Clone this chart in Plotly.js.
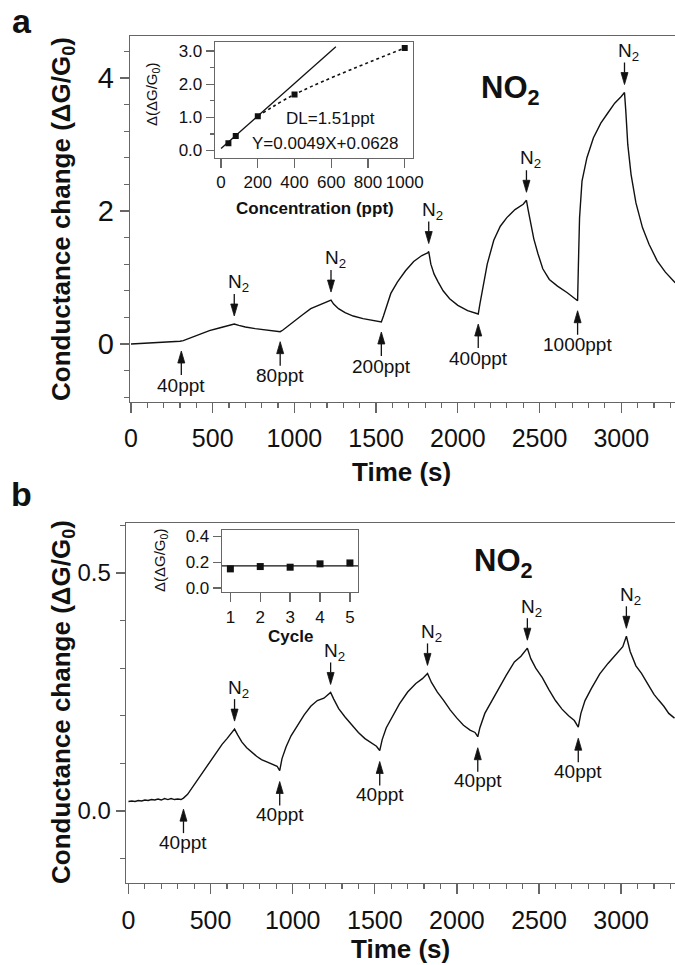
<!DOCTYPE html>
<html><head><meta charset="utf-8">
<script src="https://cdn.plot.ly/plotly-3.0.1.min.js"></script>
<style>html,body{margin:0;padding:0;background:#fff;}#chart{width:675px;height:965px;}</style>
</head><body><div id="chart"></div>
<script>
// ---------- DATA ----------
// Panel a: response to increasing NO2 doses
const timeA = [0,100,200,300,320,360,420,480,540,600,632,660,700,760,820,880,913,930,960,1000,1050,1100,1150,1200,1224,1240,1270,1310,1360,1420,1480,1532,1545,1565,1590,1630,1680,1730,1780,1815,1822,1835,1855,1880,1910,1950,2000,2060,2125,2135,2150,2180,2220,2260,2300,2350,2400,2420,2430,2445,2465,2490,2520,2560,2610,2670,2733,2738,2745,2760,2790,2830,2875,2920,2960,3000,3020,3028,3040,3060,3090,3130,3170,3220,3270,3330];
const respA = [0,0.01,0.02,0.04,0.05,0.09,0.15,0.2,0.24,0.28,0.30,0.28,0.255,0.23,0.21,0.195,0.185,0.21,0.27,0.35,0.44,0.53,0.58,0.63,0.66,0.6,0.53,0.47,0.42,0.38,0.35,0.33,0.42,0.58,0.76,0.93,1.1,1.24,1.33,1.37,1.39,1.2,1.05,0.93,0.8,0.68,0.58,0.5,0.45,0.6,0.8,1.2,1.56,1.77,1.9,2.02,2.1,2.16,2.02,1.84,1.58,1.36,1.13,0.97,0.87,0.77,0.65,1.2,1.9,2.45,2.8,3.1,3.32,3.48,3.62,3.72,3.78,3.5,3.0,2.55,2.12,1.75,1.5,1.25,1.08,0.92];
const doseTimesA = [308, 913, 1532, 2125, 2733];
const doseLabelsA = ['40ppt', '80ppt', '200ppt', '400ppt', '1000ppt'];
const purgeTimesA = [632, 1224, 1822, 2420, 3020];
const xTicksMain = [0, 500, 1000, 1500, 2000, 2500, 3000];
// Inset a: calibration
const concA = [40, 80, 200, 400, 1000];
const deltaA = [0.22, 0.44, 1.03, 1.69, 3.09];
const fitSlope = 0.0049, fitIntercept = 0.0628, fitXmax = 625;
const dlText = 'DL=1.51ppt';
const fitText = 'Y=0.0049X+0.0628';
// Panel b: repeated 40 ppt cycles
const timeB = [0,20,40,60,80,100,120,140,160,180,200,220,240,260,280,300,320,335,360,390,420,450,480,510,540,570,600,625,646,665,690,720,750,780,810,850,880,905,921,935,960,990,1030,1070,1110,1150,1190,1231,1250,1280,1320,1360,1400,1440,1480,1510,1530,1545,1570,1610,1650,1700,1750,1790,1821,1845,1880,1920,1960,2000,2040,2080,2110,2127,2140,2170,2210,2250,2300,2350,2390,2429,2450,2480,2520,2560,2600,2640,2680,2715,2739,2755,2780,2820,2870,2920,2970,3010,3032,3055,3090,3124,3160,3200,3228,3260,3290,3325];
const respB = [0.020,0.021,0.020,0.022,0.021,0.023,0.022,0.024,0.023,0.025,0.023,0.026,0.024,0.026,0.024,0.025,0.024,0.027,0.035,0.05,0.065,0.08,0.095,0.11,0.125,0.14,0.152,0.162,0.172,0.16,0.145,0.133,0.123,0.115,0.108,0.102,0.098,0.094,0.085,0.11,0.135,0.158,0.18,0.202,0.22,0.232,0.237,0.249,0.235,0.215,0.197,0.18,0.165,0.152,0.142,0.136,0.127,0.15,0.175,0.2,0.225,0.25,0.268,0.278,0.289,0.27,0.25,0.232,0.212,0.195,0.18,0.17,0.165,0.156,0.175,0.205,0.23,0.255,0.285,0.313,0.325,0.342,0.32,0.3,0.28,0.255,0.232,0.214,0.2,0.19,0.176,0.205,0.232,0.258,0.288,0.31,0.33,0.345,0.367,0.335,0.305,0.289,0.268,0.245,0.233,0.22,0.205,0.195];
const doseTimesB = [335, 921, 1530, 2127, 2739];
const doseLabelsB = ['40ppt', '40ppt', '40ppt', '40ppt', '40ppt'];
const purgeTimesB = [646, 1231, 1821, 2429, 3032];
// Inset b: cycle responses
const cycles = [1, 2, 3, 4, 5];
const deltaB = [0.149, 0.167, 0.162, 0.188, 0.195];

// ---------- HELPERS ----------
const W = 675, H = 965;
const FONT = 'Liberation Sans, Arial, Helvetica, sans-serif';
const INK = '#111', AX = '#666';
const dxp = (a, b) => [a / W, b / W];
const dyp = (top, bot) => [1 - bot / H, 1 - top / H];
const px = x => x / W, py = y => 1 - y / H;
function interp(xs, ys, t) {
  for (let i = 1; i < xs.length; i++) {
    if (t <= xs[i]) { const f = (t - xs[i-1]) / (xs[i] - xs[i-1]); return ys[i-1] + f * (ys[i] - ys[i-1]); }
  }
  return ys[ys.length - 1];
}
function axisBase(extra) {
  return Object.assign({
    showline: true, linecolor: AX, linewidth: 1.3, ticks: 'outside', tickcolor: AX, tickwidth: 1.3,
    showgrid: false, zeroline: false, tickfont: {family: FONT, size: 25, color: INK}
  }, extra);
}

// ---------- TRACES ----------
const lineStyle = {color: INK, width: 1.4};
const traces = [
  {x: timeA, y: respA, xaxis: 'x', yaxis: 'y', mode: 'lines', line: lineStyle},
  {x: [0, fitXmax], y: [0, fitXmax].map(c => fitSlope * c + fitIntercept), xaxis: 'x2', yaxis: 'y2', mode: 'lines', line: {color: INK, width: 1.3}},
  {x: concA.slice(2), y: deltaA.slice(2), xaxis: 'x2', yaxis: 'y2', mode: 'lines', line: {color: INK, width: 1.6, dash: 'dot', shape: 'spline'}},
  {x: concA, y: deltaA, xaxis: 'x2', yaxis: 'y2', mode: 'markers', marker: {symbol: 'square', size: 6, color: INK}},
  {x: timeB, y: respB, xaxis: 'x3', yaxis: 'y3', mode: 'lines', line: lineStyle},
  {x: cycles, y: deltaB, xaxis: 'x4', yaxis: 'y4', mode: 'markers', marker: {symbol: 'square', size: 7, color: INK}}
];

// ---------- ANNOTATIONS & ARROWS ----------
const annFont = {family: FONT, size: 19, color: INK};
const annotations = [];
const shapes = [];
function arrow(xr, yr, t, v, dir, standoff, head, total) {
  const s = dir; // +1 pointing down from above, -1 pointing up from below
  const tip = s * standoff, base = s * (standoff + head), tail = s * (standoff + total);
  const common = {xref: xr, yref: yr, xsizemode: 'pixel', ysizemode: 'pixel', xanchor: t, yanchor: v, layer: 'above'};
  shapes.push(Object.assign({type: 'path', path: `M -3.5 ${base} L 0 ${tip} L 3.5 ${base} Z`, fillcolor: INK, line: {color: INK, width: 0.8}}, common));
  shapes.push(Object.assign({type: 'path', path: `M 0 ${base} L 0 ${tail}`, line: {color: INK, width: 1.3}}, common));
}
function addEvents(xr, yr, tArr, vArr, doses, labels, purges, doseCfg, purgeCfg) {
  doses.forEach((t, i) => {
    const v = interp(tArr, vArr, t);
    arrow(xr, yr, t, v, -1, doseCfg.standoff, 12, doseCfg.len);
    annotations.push({x: t, y: v, xref: xr, yref: yr, text: labels[i], showarrow: false, yshift: -doseCfg.text, font: annFont});
  });
  purges.forEach(t => {
    const v = interp(tArr, vArr, t);
    arrow(xr, yr, t, v, 1, purgeCfg.standoff, 12, purgeCfg.len);
    annotations.push({x: t, y: v, xref: xr, yref: yr, text: 'N<sub>2</sub>', showarrow: false, yshift: purgeCfg.text, xshift: 4, font: annFont});
  });
}
addEvents('x', 'y', timeA, respA, doseTimesA, doseLabelsA, purgeTimesA, {standoff: 10, len: 24, text: 44}, {standoff: 8, len: 22, text: 41});
addEvents('x3', 'y3', timeB, respB, doseTimesB, doseLabelsB, purgeTimesB, {standoff: 11, len: 24, text: 44}, {standoff: 8, len: 22, text: 40});

function paperText(text, x, y, size, bold, angle) {
  annotations.push({xref: 'paper', yref: 'paper', x: px(x), y: py(y), xanchor: 'center', yanchor: 'middle', showarrow: false,
    text: bold ? '<b>' + text + '</b>' : text, textangle: angle || 0, font: {family: FONT, size: size, color: INK}});
}
paperText('a', 22, 21, 34, true);
paperText('b', 21, 494, 34, true);
paperText('Conductance change (ΔG/G<sub>0</sub>)', 63, 219, 26, true, -90);
paperText('Conductance change (ΔG/G<sub>0</sub>)', 62, 702, 26, true, -90);
paperText('Time (s)', 402, 472, 26, true);
paperText('Time (s)', 400, 949, 26, true);
paperText('NO<sub>2</sub>', 510, 90, 31, true);
paperText('NO<sub>2</sub>', 503, 563, 31, true);
paperText('Concentration (ppt)', 315, 208, 17, true);
paperText('Cycle', 290, 636, 17, true);
paperText('Δ(ΔG/G<sub>0</sub>)', 152, 95, 15, false, -90);
paperText('Δ(ΔG/G<sub>0</sub>)', 160, 561, 15, false, -90);
paperText(dlText, 330, 119, 17, false);
paperText(fitText, 325, 143, 17, false);

// inset b mean line
const meanB = deltaB.reduce((a, b) => a + b, 0) / deltaB.length;
shapes.push({type: 'line', xref: 'x4 domain', yref: 'y4', x0: 0, x1: 1, y0: meanB, y1: meanB, line: {color: INK, width: 1.3}});

// ---------- LAYOUT ----------
const insetTick = {family: FONT, size: 17, color: INK};
const layout = {
  width: W, height: H, margin: {l: 0, r: 0, t: 0, b: 0},
  paper_bgcolor: '#fff', plot_bgcolor: 'rgba(0,0,0,0)', showlegend: false,
  xaxis: axisBase({domain: dxp(130, 675), range: [-6, 3329], tickvals: xTicksMain, ticklen: 10, anchor: 'y', mirror: true,
    ticklabelstandoff: 4, minor: {dtick: 100, tick0: 0, ticks: 'outside', ticklen: 5, tickcolor: AX, tickwidth: 1.2}}),
  yaxis: axisBase({domain: dyp(36, 401.5), range: [-0.865, 4.63], dtick: 2, tick0: 0, ticklen: 9, anchor: 'x',
    tickfont: {family: FONT, size: 29, color: INK},
    minor: {dtick: 0.4, tick0: 0, ticks: 'outside', ticklen: 5, tickcolor: AX, tickwidth: 1.2}}),
  xaxis2: axisBase({domain: dxp(215, 413), range: [-33, 1045], dtick: 200, tick0: 0, ticklen: 9, anchor: 'y2', mirror: true,
    tickfont: insetTick}),
  yaxis2: axisBase({domain: dyp(42, 157.5), range: [-0.21, 3.27], dtick: 1, tick0: 0, tickformat: '.1f', ticklen: 8, anchor: 'x2', mirror: true,
    tickfont: insetTick, minor: {dtick: 0.5, tick0: 0, ticks: 'outside', ticklen: 4, tickcolor: AX, tickwidth: 1.2}}),
  xaxis3: axisBase({domain: dxp(126, 675), range: [-15, 3328], tickvals: xTicksMain, ticklen: 10, anchor: 'y3', mirror: true,
    ticklabelstandoff: 5, minor: {dtick: 100, tick0: 0, ticks: 'outside', ticklen: 5, tickcolor: AX, tickwidth: 1.2}}),
  yaxis3: axisBase({domain: dyp(523, 883), range: [-0.1513, 0.605], dtick: 0.5, tick0: 0, tickformat: '.1f', ticklen: 9, anchor: 'x3',
    tickfont: {family: FONT, size: 24, color: INK},
    minor: {dtick: 0.1, tick0: 0, ticks: 'outside', ticklen: 5, tickcolor: AX, tickwidth: 1.2}}),
  xaxis4: axisBase({domain: dxp(222, 358), range: [0.72, 5.27], dtick: 1, tick0: 0, ticklen: 9, anchor: 'y4', mirror: true,
    tickfont: insetTick}),
  yaxis4: axisBase({domain: dyp(530, 592), range: [-0.03, 0.45], dtick: 0.2, tick0: 0, tickformat: '.1f', ticklen: 8, anchor: 'x4', mirror: true,
    tickfont: insetTick}),
  annotations: annotations,
  shapes: shapes
};
Plotly.newPlot('chart', traces, layout, {staticPlot: true, displayModeBar: false});
</script></body></html>
